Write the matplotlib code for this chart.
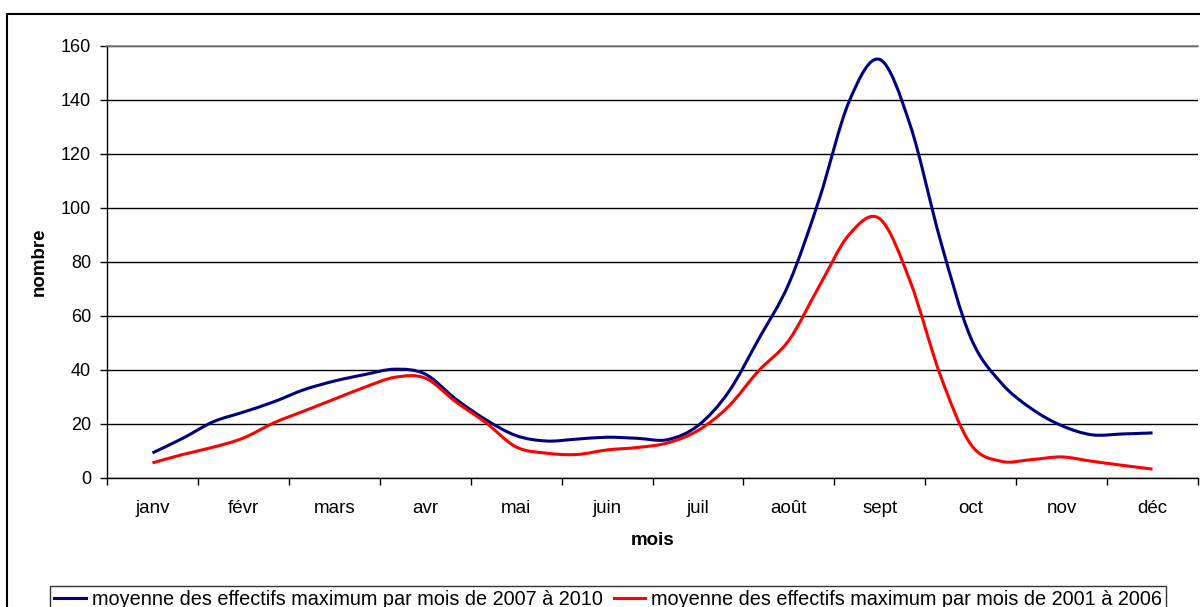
import matplotlib.pyplot as plt
import matplotlib.patches as mpatches
from matplotlib.lines import Line2D
from matplotlib.path import Path
import numpy as np

plt.rcParams['font.family'] = ['Liberation Sans', 'DejaVu Sans']

# ── data: three readings per month (début / milieu / fin) ──
months = ["janv", "févr", "mars", "avr", "mai", "juin",
          "juil", "août", "sept", "oct", "nov", "déc"]

# position of each reading, in month units (0 = janv)
positions = [k / 3 for k in range(34)]

moy_2007_2010 = [9.3, 14.7, 20.8, 24.4, 28.2, 32.7, 35.9, 38.3, 40.3, 38.5,
                 29.3, 21.6, 15.7, 13.7, 14.4, 15.1, 14.7, 14.2, 19.4, 31.7,
                 51.4, 72.0, 103.2, 139.8, 155.0, 130.8, 88.0, 52.0, 35.3, 25.7,
                 19.4, 16.0, 16.3, 16.7]

moy_2001_2006 = [5.6, 8.7, 11.4, 14.8, 20.4, 24.8, 29.2, 33.6, 37.3, 37.0,
                 28.3, 20.5, 11.5, 9.2, 8.7, 10.4, 11.3, 13.0, 17.6, 26.4,
                 39.7, 51.0, 71.0, 90.3, 96.0, 72.9, 38.0, 12.5, 6.2, 6.8,
                 7.8, 6.2, 4.7, 3.3]

label_2007 = "moyenne des effectifs maximum par mois de 2007 à 2010"
label_2001 = "moyenne des effectifs maximum par mois de 2001 à 2006"

BLUE = "#000080"
RED = "#FF0000"


def smoothed_path(xs, ys):
    """Excel-like 'smoothed line': cubic Bezier through every point."""
    p = np.column_stack([xs, ys])
    n = len(p)
    verts = [p[0]]
    codes = [Path.MOVETO]
    for i in range(n - 1):
        p0 = p[i - 1] if i > 0 else p[i]
        p3 = p[i + 2] if i + 2 < n else p[i + 1]
        c1 = p[i] + (p[i + 1] - p0) / 6
        c2 = p[i + 1] - (p3 - p[i]) / 6
        verts += [c1, c2, p[i + 1]]
        codes += [Path.CURVE4] * 3
    return Path(verts, codes)


W, H = 1200, 607
fig = plt.figure(figsize=(W / 100, H / 100), dpi=100)
ax = fig.add_axes([107 / W, 1 - 478 / H, (1198 - 107) / W, (478 - 46) / H])

for vals, col in [(moy_2007_2010, BLUE), (moy_2001_2006, RED)]:
    ax.add_patch(mpatches.PathPatch(smoothed_path(positions, vals), fill=False,
                                    edgecolor=col, lw=2.2, joinstyle="round",
                                    zorder=3))

# y axis
ax.set_ylim(0, 160)
ax.set_yticks(np.arange(0, 161, 20))
ax.yaxis.grid(True, color="black", lw=1.0)
ax.set_axisbelow(True)
ax.tick_params(axis="y", direction="out", length=5, width=1, pad=6.5,
               labelsize=13, color="black")

# x axis: ticks between months, labels centred on months
ax.set_xlim(-0.5, len(months) - 0.5)
ax.set_xticks(np.arange(-0.5, len(months), 1.0))
ax.set_xticklabels([])
ax.set_xticks(np.arange(len(months)), minor=True)
ax.set_xticklabels(months, minor=True)
ax.tick_params(axis="x", which="major", direction="out", length=5, width=1)
ax.tick_params(axis="x", which="minor", length=0, pad=16, labelsize=13.5)

for side in ["left", "bottom"]:
    ax.spines[side].set_color("black")
    ax.spines[side].set_linewidth(1.0)
ax.spines["top"].set_color("#808080")
ax.spines["top"].set_linewidth(1.2)
ax.spines["right"].set_visible(False)

ax.set_xlabel("mois", fontsize=13.5, fontweight="bold")
ax.xaxis.set_label_coords(0.5, -0.125)
ax.set_ylabel("nombre", fontsize=13.5, fontweight="bold")
ax.yaxis.set_label_coords(-0.054, 0.5)

# outer chart-area frame (cut by the image edges)
fig.patches.append(mpatches.Rectangle((7 / W, -0.1), 1.2, 1.1 - 14 / H,
                                      transform=fig.transFigure, fill=False,
                                      edgecolor="black", lw=1.5))

handles = [Line2D([], [], color=BLUE, lw=2.2), Line2D([], [], color=RED, lw=2.2)]
leg = fig.legend(handles, [label_2007, label_2001],
                 loc="upper left", bbox_to_anchor=(50 / W, 1 - 586 / H),
                 ncol=2, fontsize=14.3, frameon=True, fancybox=False,
                 edgecolor="black", handlelength=1.6, handletextpad=0.3,
                 columnspacing=0.55, borderpad=0.2, borderaxespad=0)
leg.get_frame().set_linewidth(1.0)

fig.savefig("out.png", dpi=100)
